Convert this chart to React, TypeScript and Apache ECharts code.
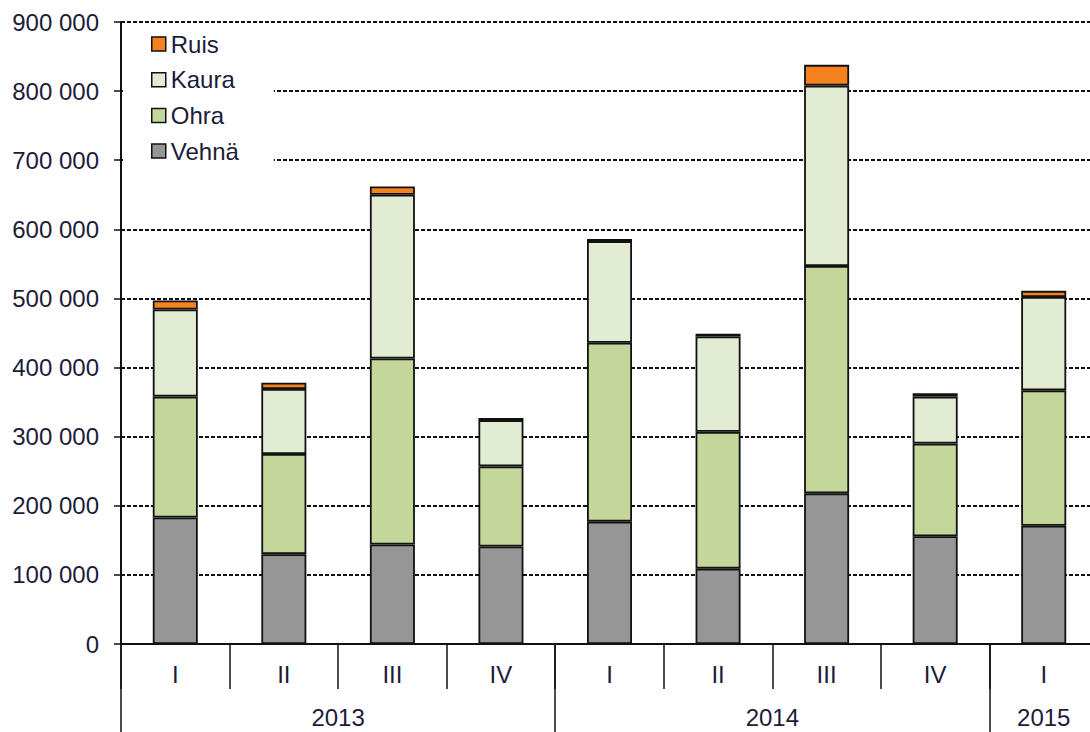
import React, { useEffect, useRef } from "react";
import * as echarts from "echarts";

const quarters = ["I", "II", "III", "IV", "I", "II", "III", "IV", "I"];
// year axis: 19 half-step points across the 9 quarters
const yearPoints = ["", "", "", "", "2013", "", "", "", "", "", "", "", "2014", "", "", "", "", "2015", ""];
const yearTickIdx = [0, 8, 16, 18];
const yearLabelIdx = [4, 12, 17];

const vehna = [183000, 130000, 144000, 141000, 177000, 109000, 218000, 156000, 171000];
const ohra = [175000, 145000, 269000, 116000, 259000, 198000, 329000, 134000, 196000];
const kaura = [126000, 94000, 237000, 67000, 147000, 138000, 261000, 68000, 135000];
const ruis = [13000, 9000, 12000, 3000, 3000, 4000, 30000, 5000, 9000];

const legendOrder = ["Ruis", "Kaura", "Ohra", "Vehnä"];

const FONT = "'Liberation Sans', Arial, sans-serif";
const TXT = "#1c1c3a";

export default function App() {
  const ref = useRef<HTMLDivElement>(null);
  useEffect(() => {
    if (!ref.current) return;
    const chart = echarts.init(ref.current, null, { renderer: "svg" });
    const fmt = (v: number) => String(v).replace(/\B(?=(\d{3})+(?!\d))/g, " ");
    const bar = (name: string, data: number[], color: string) => ({
      name,
      type: "bar",
      stack: "total",
      data,
      barWidth: 45,
      itemStyle: { color, borderColor: "#111", borderWidth: 1.8 },
    });
    chart.setOption({
      animation: false,
      backgroundColor: "#fff",
      textStyle: { fontFamily: FONT },
      grid: { left: 121, top: 22, right: 2, bottom: 88 },
      legend: {
        data: legendOrder,
        orient: "vertical",
        left: 123,
        top: 25,
        padding: [7, 35, 10, 28],
        backgroundColor: "#fff",
        itemWidth: 14,
        itemHeight: 14,
        itemGap: 11.7,
        itemTextGap: 6,
        icon: "rect",
        itemStyle: { borderColor: "#111", borderWidth: 1.5 },
        textStyle: { fontSize: 24, color: TXT, fontFamily: FONT },
        z: 10,
      },
      xAxis: [
        {
          type: "category",
          data: quarters,
          position: "bottom",
          axisLine: { show: true, lineStyle: { color: "#111", width: 2 } },
          axisTick: { show: true, length: 45, lineStyle: { color: "#111", width: 1.5 } },
          axisLabel: { fontSize: 24, color: TXT, margin: 18, fontFamily: FONT, interval: 0 },
          splitLine: { show: false },
        },
        {
          type: "category",
          data: yearPoints,
          position: "bottom",
          boundaryGap: false,
          axisLine: { show: false },
          axisTick: {
            show: true,
            length: 90,
            interval: (i: number) => yearTickIdx.includes(i),
            lineStyle: { color: "#111", width: 1.5 },
          },
          axisLabel: {
            fontSize: 24,
            color: TXT,
            margin: 61,
            fontFamily: FONT,
            interval: (i: number) => yearLabelIdx.includes(i),
          },
          splitLine: { show: false },
        },
      ],
      yAxis: {
        type: "value",
        min: 0,
        max: 900000,
        interval: 100000,
        axisLine: { show: true, lineStyle: { color: "#111", width: 2 } },
        axisTick: { show: true, length: 7, lineStyle: { color: "#111", width: 1.5 } },
        axisLabel: { fontSize: 24, color: TXT, margin: 22, fontFamily: FONT, formatter: fmt },
        splitLine: {
          show: true,
          lineStyle: { color: "#111", width: 1.8, type: [4, 2] },
        },
      },
      series: [
        bar("Vehnä", vehna, "#969696"),
        bar("Ohra", ohra, "#C3D79B"),
        bar("Kaura", kaura, "#E2ECD3"),
        bar("Ruis", ruis, "#F5821F"),
      ],
    });
    return () => chart.dispose();
  }, []);
  return (
    <div
      style={{
        position: "fixed",
        left: 0,
        top: 0,
        width: 1090,
        height: 732,
        overflow: "hidden",
        background: "#fff",
      }}
    >
      <div ref={ref} style={{ width: 1100, height: 732 }} />
    </div>
  );
}
